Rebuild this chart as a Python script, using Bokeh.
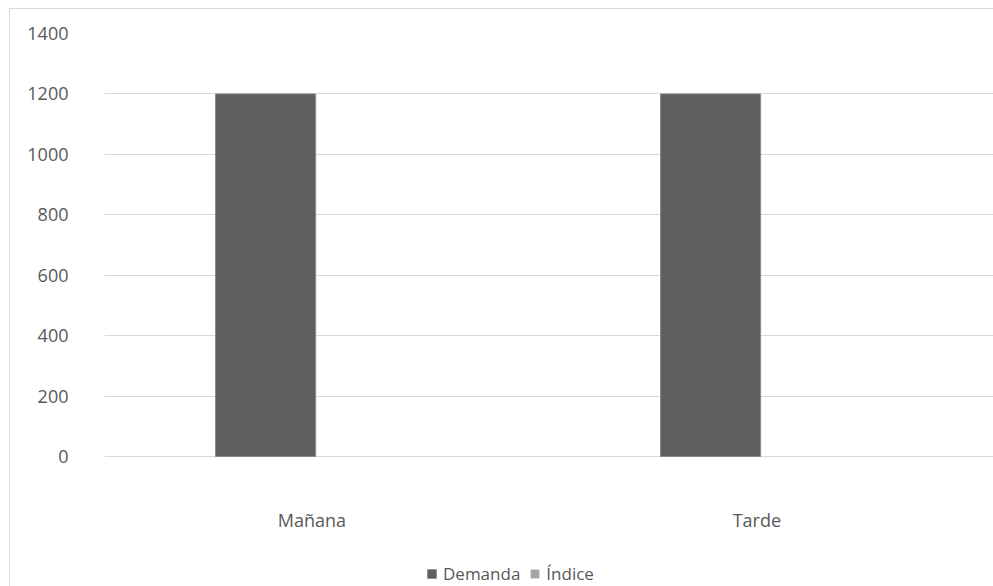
from bokeh.plotting import figure
from bokeh.models import ColumnDataSource, FixedTicker, Range1d, Legend, LegendItem
from bokeh.core.properties import value
from bokeh.transform import dodge
from bokeh.embed import file_html
from bokeh.resources import INLINE

# Demand per shift, with the index series alongside
turnos = ["Mañana", "Tarde"]
demanda = [1200, 1200]
indice = [0, 0]
y_ticks = [0, 200, 400, 600, 800, 1000, 1200, 1400]

FONT = "Open Sans"
TEXT = "#595959"
GRID = "#d9d9d9"

# the value axis spans 423 px; the frame continues 131 px below zero so the
# category labels and legend can sit inside it
Y_MAX = 1400
AXIS_PX = 423
BELOW_PX = 131
y_floor = -Y_MAX * BELOW_PX / AXIS_PX
label_y = -Y_MAX * 63 / AXIS_PX

src = ColumnDataSource(dict(turno=turnos, demanda=demanda, indice=indice,
                            label_y=[label_y] * len(turnos)))

p = figure(
    x_range=turnos,
    y_range=Range1d(y_floor, Y_MAX),
    width=984,
    height=578,
    margin=(8, 0, 0, 9),
    min_border_left=94,
    min_border_top=24,
    min_border_right=0,
    min_border_bottom=0,
    output_backend="svg",
    toolbar_location=None,
    outline_line_color=None,
    background_fill_color="white",
    border_fill_color="white",
    styles={"border-left": "1px solid #d9d9d9", "border-top": "1px solid #d9d9d9"},
)

r_dem = p.vbar(x=dodge("turno", -0.138, range=p.x_range), top="demanda", width=0.225,
               source=src, fill_color="#5f5f5f", line_color="#8a8a8a", line_width=1)
r_ind = p.vbar(x=dodge("turno", 0.087, range=p.x_range), top="indice", width=0.225,
               source=src, fill_color="#a5a5a5", line_color=None)

# category labels under the zero line
p.text(x=dodge("turno", -0.034, range=p.x_range), y="label_y", text="turno", source=src,
       text_align="center", text_baseline="middle",
       text_font=value(FONT), text_font_size="18px", text_color=TEXT)

# grid
ticker = FixedTicker(ticks=y_ticks)
p.xgrid.grid_line_color = None
p.ygrid.ticker = ticker
p.ygrid.grid_line_color = GRID
p.ygrid.grid_line_width = 1

# y axis
p.yaxis.ticker = ticker
p.yaxis.axis_line_color = None
p.yaxis.major_tick_line_color = None
p.yaxis.minor_tick_line_color = None
p.yaxis.major_label_standoff = 30
p.yaxis.major_label_text_font = FONT
p.yaxis.major_label_text_font_size = "18px"
p.yaxis.major_label_text_color = TEXT

p.xaxis.visible = False

legend = Legend(
    items=[LegendItem(label="Demanda", renderers=[r_dem]),
           LegendItem(label="Índice", renderers=[r_ind])],
    orientation="horizontal",
    location=(322, 2),
    glyph_width=11,
    glyph_height=11,
    label_standoff=6,
    spacing=9,
    padding=0,
    margin=0,
    border_line_color=None,
    background_fill_alpha=0,
    label_text_font=FONT,
    label_text_font_size="17px",
    label_text_color=TEXT,
)
p.add_layout(legend)

open("out.html", "w").write(file_html(p, INLINE))
